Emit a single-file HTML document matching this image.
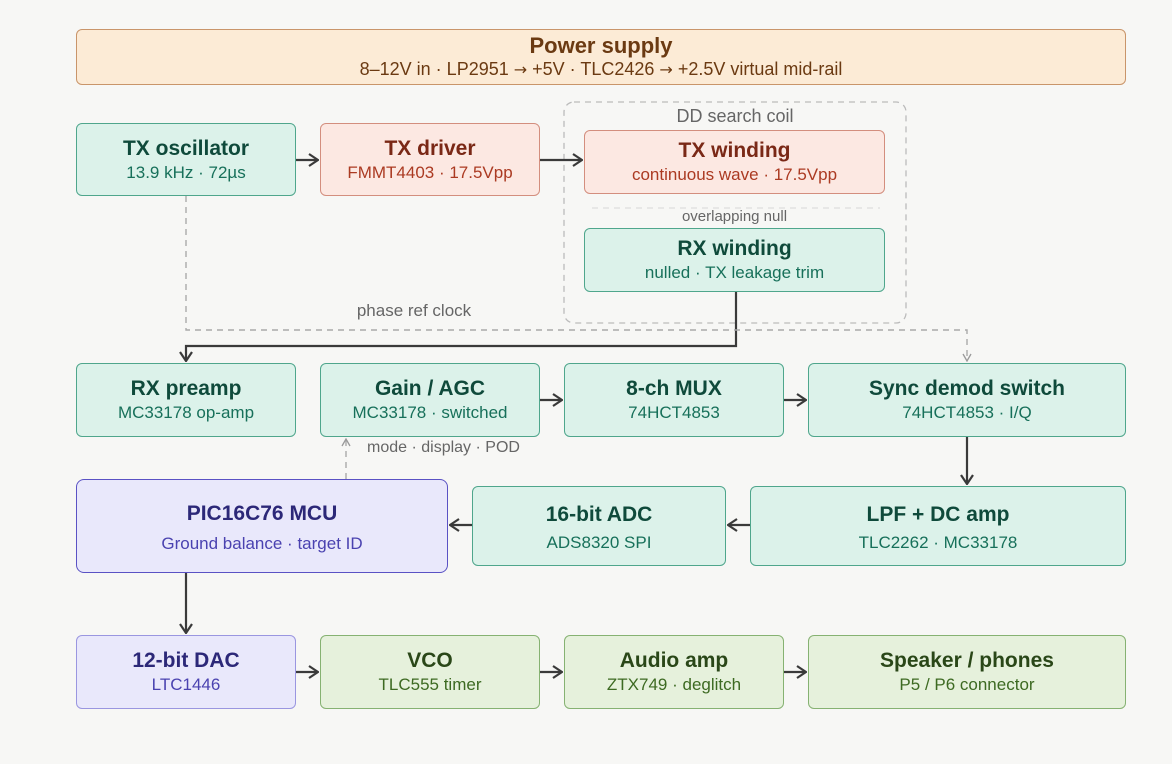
<!DOCTYPE html>
<html><head><meta charset="utf-8"><style>
body{margin:0;width:1172px;height:764px;background:#f7f7f5;font-family:"Liberation Sans",sans-serif;position:relative;overflow:hidden}
.b{position:absolute;box-sizing:border-box;border:1.3px solid;border-radius:6px;display:flex;flex-direction:column;align-items:center;justify-content:center;text-align:center}
.t{font-size:21px;font-weight:bold;line-height:25px}
.s{font-size:17px;line-height:23px}
.tl{background:#dcf2ea;border-color:#4fa68c;color:#0f4a3b}.tl .s{color:#17705a}
.rd{background:#fce8e2;border-color:#d38e7e;color:#7a2816}.rd .s{color:#ab3a22}
.pu{background:#e9e8fb;border-color:#5a52c4;color:#2c2878}.pu .s{color:#4a42b0}
.gr{background:#e6f1dc;border-color:#86b272;color:#2a4718}.gr .s{color:#3d6a22}
.lb{position:absolute;font-size:16px;color:#666}
.ar{font-family:"DejaVu Sans",sans-serif;font-size:16px}
svg{position:absolute;left:0;top:0}
</style></head><body>
<svg width="1172" height="764">
<defs>
<marker id="a" markerWidth="12" markerHeight="14" refX="11" refY="7" orient="auto" markerUnits="userSpaceOnUse"><path d="M2,1 L11,7 L2,13" fill="none" stroke="#3a3a3a" stroke-width="2.2"/></marker>
<marker id="d" markerWidth="10" markerHeight="10" refX="9" refY="5" orient="auto" markerUnits="userSpaceOnUse"><path d="M2,1 L9,5 L2,9" fill="none" stroke="#999" stroke-width="1.3"/></marker>
</defs>
<rect x="564" y="102" width="342" height="221" rx="10" fill="none" stroke="#bbb" stroke-width="1.3" stroke-dasharray="6,5"/>
<line x1="592" y1="208" x2="880" y2="208" stroke="#ddd" stroke-width="1.3" stroke-dasharray="6,5"/>
<g fill="none" stroke="#3a3a3a" stroke-width="2.2">
<path d="M296,160 H318" marker-end="url(#a)"/>
<path d="M540,160 H582" marker-end="url(#a)"/>
<path d="M736,292 V346 H186 V361" marker-end="url(#a)"/>
<path d="M540,400 H562" marker-end="url(#a)"/>
<path d="M784,400 H806" marker-end="url(#a)"/>
<path d="M967,437 V484" marker-end="url(#a)"/>
<path d="M750,525 H728" marker-end="url(#a)"/>
<path d="M472,525 H450" marker-end="url(#a)"/>
<path d="M186,573 V633" marker-end="url(#a)"/>
<path d="M296,672 H318" marker-end="url(#a)"/>
<path d="M540,672 H562" marker-end="url(#a)"/>
<path d="M784,672 H806" marker-end="url(#a)"/>
</g>
<g fill="none" stroke="#aaa" stroke-width="1.4" stroke-dasharray="6,5">
<path d="M186,196 V330 H967 V361" marker-end="url(#d)"/>
<path d="M346,479 V439" marker-end="url(#d)"/>
</g>
</svg>
<div class="b" style="left:76px;top:29px;width:1050px;height:56px;background:#fcebd6;border-color:#c9956a;color:#6b3a12"><div class="t" style="font-size:22px">Power supply</div><div class="s" style="font-size:18px">8–12V in · LP2951 <span class="ar">→</span> +5V · TLC2426 <span class="ar">→</span> +2.5V virtual mid-rail</div></div>
<div class="b tl" style="left:76px;top:123px;width:220px;height:73px"><div class="t">TX oscillator</div><div class="s">13.9 kHz · 72µs</div></div>
<div class="b rd" style="left:320px;top:123px;width:220px;height:73px"><div class="t">TX driver</div><div class="s">FMMT4403 · 17.5Vpp</div></div>
<div class="lb" style="left:564px;width:342px;text-align:center;top:106px;font-size:18px">DD search coil</div>
<div class="b rd" style="left:584px;top:130px;width:301px;height:64px"><div class="t">TX winding</div><div class="s">continuous wave · 17.5Vpp</div></div>
<div class="lb" style="left:584px;width:301px;text-align:center;top:208px;font-size:15px">overlapping null</div>
<div class="b tl" style="left:584px;top:228px;width:301px;height:64px"><div class="t">RX winding</div><div class="s">nulled · TX leakage trim</div></div>
<div class="lb" style="left:340px;width:148px;text-align:center;top:301px;font-size:17px">phase ref clock</div>
<div class="b tl" style="left:76px;top:363px;width:220px;height:74px"><div class="t">RX preamp</div><div class="s">MC33178 op-amp</div></div>
<div class="b tl" style="left:320px;top:363px;width:220px;height:74px"><div class="t">Gain / AGC</div><div class="s">MC33178 · switched</div></div>
<div class="b tl" style="left:564px;top:363px;width:220px;height:74px"><div class="t">8-ch MUX</div><div class="s">74HCT4853</div></div>
<div class="b tl" style="left:808px;top:363px;width:318px;height:74px"><div class="t">Sync demod switch</div><div class="s">74HCT4853 · I/Q</div></div>
<div class="lb" style="left:367px;top:439px;font-size:16px">mode · display · POD</div>
<div class="b pu" style="left:76px;top:479px;width:372px;height:94px;border-width:1.8px;border-radius:8px"><div class="t" style="margin-bottom:6px;margin-top:4px">PIC16C76 MCU</div><div class="s">Ground balance · target ID</div></div>
<div class="b tl" style="left:472px;top:486px;width:254px;height:80px"><div class="t" style="margin-bottom:4px;margin-top:4px">16-bit ADC</div><div class="s">ADS8320 SPI</div></div>
<div class="b tl" style="left:750px;top:486px;width:376px;height:80px"><div class="t" style="margin-bottom:4px;margin-top:4px">LPF + DC amp</div><div class="s">TLC2262 · MC33178</div></div>
<div class="b pu" style="left:76px;top:635px;width:220px;height:74px;border-color:#9a96e0"><div class="t">12-bit DAC</div><div class="s">LTC1446</div></div>
<div class="b gr" style="left:320px;top:635px;width:220px;height:74px"><div class="t">VCO</div><div class="s">TLC555 timer</div></div>
<div class="b gr" style="left:564px;top:635px;width:220px;height:74px"><div class="t">Audio amp</div><div class="s">ZTX749 · deglitch</div></div>
<div class="b gr" style="left:808px;top:635px;width:318px;height:74px"><div class="t">Speaker / phones</div><div class="s">P5 / P6 connector</div></div>
</body></html>
